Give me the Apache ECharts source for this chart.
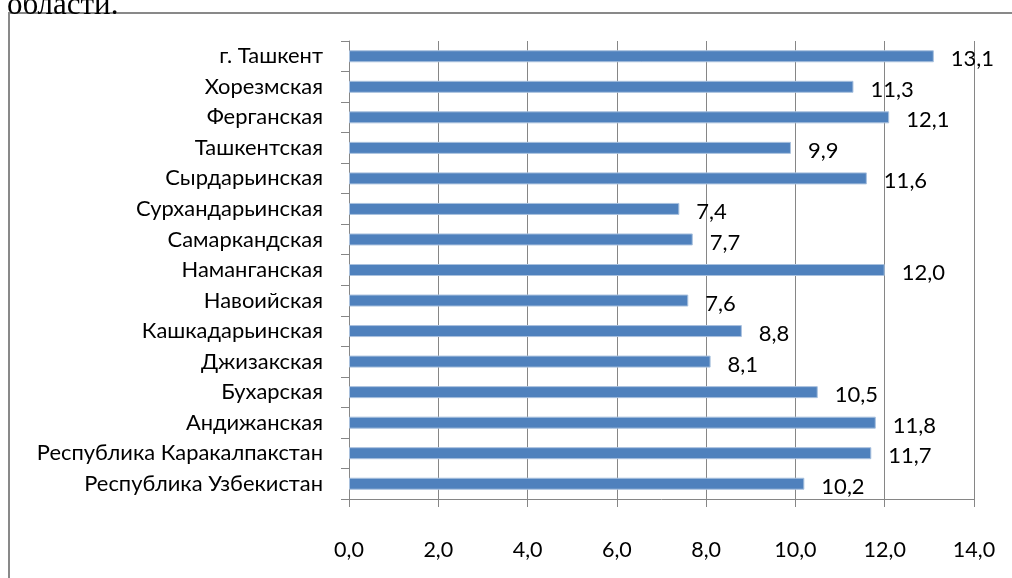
<!DOCTYPE html>
<html>
<head>
<meta charset="utf-8">
<script src="https://cdn.jsdelivr.net/npm/echarts@6/dist/echarts.min.js"></script>
<style>
html,body{margin:0;padding:0;background:#fff;}
#c{width:1012px;height:578px;}
</style>
</head>
<body>
<div id="c"></div>
<script>
const categories = [
  'Республика Узбекистан',
  'Республика Каракалпакстан',
  'Андижанская',
  'Бухарская',
  'Джизакская',
  'Кашкадарьинская',
  'Навоийская',
  'Наманганская',
  'Самаркандская',
  'Сурхандарьинская',
  'Сырдарьинская',
  'Ташкентская',
  'Ферганская',
  'Хорезмская',
  'г. Ташкент'
];
const values = [10.2, 11.7, 11.8, 10.5, 8.1, 8.8, 7.6, 12.0, 7.7, 7.4, 11.6, 9.9, 12.1, 11.3, 13.1];
const xTicks = [0, 2, 4, 6, 8, 10, 12, 14];
const headerText = 'области.';

const fmt = v => Number(v).toFixed(1).replace('.', ',');
const chart = echarts.init(document.getElementById('c'));
chart.setOption({
  animation: false,
  backgroundColor: '#fff',
  textStyle: { fontFamily: 'Lato' },
  graphic: [
    { type: 'rect', shape: { x: 9, y: 13, width: 1020, height: 600 },
      style: { fill: 'none', stroke: '#898989', lineWidth: 2 }, silent: true },
    { type: 'text', x: 7, y: 21,
      style: { text: headerText, font: '31px "Liberation Serif"', fill: '#000', verticalAlign: 'bottom' } }
  ],
  grid: { left: 349, right: 38, top: 41, bottom: 79, containLabel: false },
  xAxis: {
    type: 'value',
    min: xTicks[0], max: xTicks[xTicks.length - 1], interval: 2,
    axisLine: { show: true, lineStyle: { color: '#868686', width: 1 } },
    axisTick: { show: true, length: 8, lineStyle: { color: '#868686' } },
    splitLine: { show: true, lineStyle: { color: '#868686', width: 1 } },
    axisLabel: { formatter: fmt, color: '#000', fontSize: 21.5, margin: 40, fontFamily: 'Lato' }
  },
  yAxis: {
    type: 'category',
    data: categories,
    axisLine: { show: true, lineStyle: { color: '#868686', width: 1 } },
    axisTick: { show: true, length: 8, lineStyle: { color: '#868686' } },
    axisLabel: { color: '#000', fontSize: 21.9, margin: 26, fontFamily: 'Lato' }
  },
  series: [{
    type: 'bar',
    data: values,
    barWidth: 12,
    itemStyle: { color: '#4F81BD', borderColor: '#a9c1de', borderWidth: 1 },
    label: {
      show: true, position: 'right', distance: 17, offset: [0, 3],
      formatter: p => fmt(p.value), color: '#000', fontSize: 22, fontFamily: 'Lato'
    }
  }]
});
</script>
</body>
</html>
